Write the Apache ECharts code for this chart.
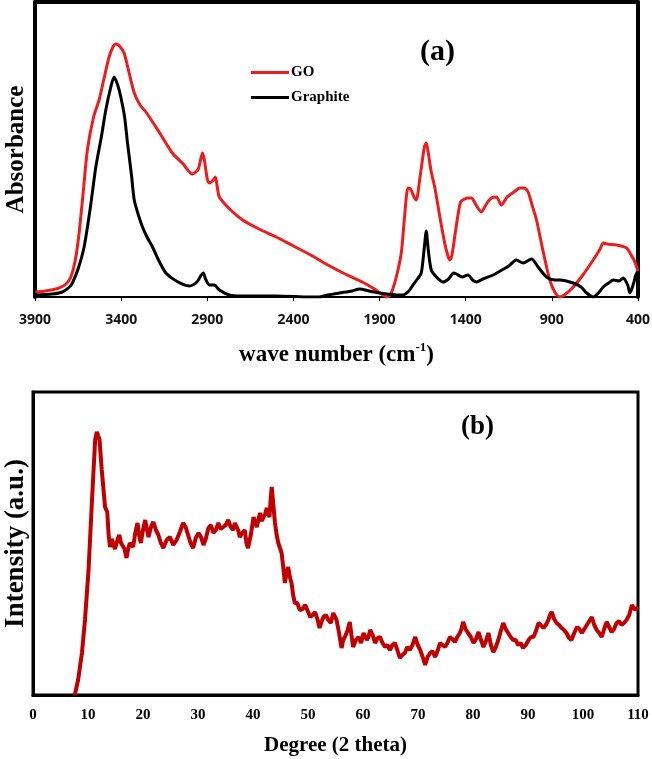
<!DOCTYPE html>
<html>
<head>
<meta charset="utf-8">
<script src="https://cdn.jsdelivr.net/npm/echarts@6/dist/echarts.min.js"></script>
<style>html,body{margin:0;padding:0;background:#fff;}#c{width:652px;height:759px;}</style>
</head>
<body>
<div id="c"></div>
<script>
// ---- FTIR (a) ----
const ftirTicks = [3900, 3400, 2900, 2400, 1900, 1400, 900, 400];
const goWavenumber = [3898,3840,3760,3720,3692,3665,3644,3620,3596,3560,3528,3500,3470,3445,3431,3410,3383,3355,3324,3290,3256,3180,3103,3040,2987,2960,2950,2935,2927,2915,2900,2888,2870,2853,2842,2830,2770,2695,2600,2500,2400,2300,2200,2100,2000,1930,1880,1861,1840,1825,1800,1774,1755,1735,1720,1700,1687,1665,1640,1629,1618,1600,1580,1550,1522,1505,1493,1480,1464,1445,1430,1416,1390,1367,1340,1309,1280,1251,1222,1193,1160,1120,1086,1060,1038,1015,989,950,912,880,853,820,776,720,660,620,602,580,524,466,440,420,408,400];
const goAbsorbance = [5,6,9,13,20,38,64,105,147,180,197,218,240,251,253,251,244,225,204,192,185,165,144,133,123,126,129,140,144,135,118,114,116,120,110,100,88,77,68,60,51,42,32,23,15,8,2,0,2,7,22,44,80,109,108,100,97,120,150,154,145,125,110,80,54,42,37,42,60,82,95,97,99,99,92,85,93,99,100,92,100,105,109,109,105,92,77,45,17,4,0,3,10,22,37,48,54,53,52,49,42,36,30,26];
const graphiteWavenumber = [3898,3800,3741,3700,3683,3650,3615,3580,3547,3515,3489,3460,3441,3420,3402,3380,3363,3340,3324,3300,3276,3250,3218,3180,3140,3080,3005,2960,2935,2923,2910,2888,2859,2830,2772,2700,2500,2300,2249,2200,2133,2060,2016,1960,1900,1800,1765,1730,1706,1680,1658,1640,1629,1618,1600,1570,1532,1500,1470,1454,1420,1387,1360,1338,1300,1241,1200,1150,1106,1067,1018,980,931,880,853,776,730,698,660,630,602,570,544,510,486,460,447,425,408,400];
const graphiteAbsorbance = [2,3,5,10,14,28,50,88,130,160,187,210,220,212,200,180,154,122,97,82,70,60,50,36,24,16,11,15,22,24,18,12,12,7,2,1,1,0,0,2,4,6,8,6,4,2,2,6,12,18,24,50,66,48,27,20,15,18,24,23,20,22,17,15,18,22,26,31,37,34,38,30,20,17,17,14,10,4,0,4,10,14,17,16,19,12,4,14,24,22];

// ---- XRD (b) ----
const xrdTicks = [0,10,20,30,40,50,60,70,80,90,100,110];
const xrdAngle = [7.6,8.2,8.9,9.45,10.1,10.7,11.3,11.6,12.1,12.5,13.1,
  13.5,13.75,14.0,14.3,14.6,14.9,15.2,15.45,15.7,16.0,16.3,16.65,17.0,17.3,17.6,17.9,18.2,18.6,19.0,19.3,19.6,20.0,20.4,20.7,21.0,21.45,21.9,22.35,22.8,23.25,23.7,24.3,24.9,25.5,26.1,26.7,27.3,27.75,28.2,28.65,29.1,29.6,30.1,30.55,31.0,31.45,31.9,32.35,32.8,33.25,33.7,34.15,34.6,35.05,35.5,35.95,36.4,36.7,37.0,37.3,37.6,38.05,38.5,38.8,39.1,39.6,40.1,40.4,40.7,41.0,41.3,41.6,41.9,42.2,42.5,42.75,43.0,43.2,43.4,43.7,44.0,44.3,44.6,44.9,45.2,45.5,45.8,46.1,46.4,46.7,47.0,47.3,47.6,48.05,48.5,49.0,49.5,49.95,50.4,50.85,51.3,51.7,52.1,52.45,52.8,53.25,53.7,54.15,54.6,54.9,55.2,55.65,56.1,56.4,56.7,57.15,57.6,57.9,58.2,58.7,59.2,59.65,60.1,60.4,60.7,61.0,61.3,61.75,62.2,62.65,63.1,63.55,64.0,64.45,64.9,65.35,65.8,66.25,66.7,67.15,67.6,68.05,68.5,69.0,69.5,69.95,70.4,70.85,71.3,71.75,72.2,72.65,73.1,73.55,74.0,74.45,74.9,75.35,75.8,76.25,76.7,77.15,77.6,77.9,78.2,78.65,79.1,79.6,80.1,80.55,81.0,81.45,81.9,82.35,82.8,83.25,83.7,84.15,84.6,85.05,85.5,85.95,86.4,86.85,87.3,87.75,88.2,88.65,89.1,89.6,90.1,90.55,91.0,91.45,91.9,92.35,92.8,93.25,93.7,94.0,94.3,94.75,95.2,95.65,96.1,96.55,97.0,97.45,97.9,98.4,98.9,99.35,99.8,100.25,100.7,101.15,101.6,102.05,102.5,102.95,103.4,103.85,104.3,104.75,105.2,105.65,106.1,106.55,107.0,107.45,107.9,108.4,108.9,109.2,109.5,109.75,110];
const xrdIntensity = [0,15,42,75,125,192,255,263,255,225,188,
  183,160,148,156,155,146,148,157,160,152,150,146,137,146,152,154,148,162,172,160,152,165,175,166,158,168,173,165,160,152,147,155,158,150,155,163,172,168,160,152,147,157,162,158,150,157,167,170,162,165,172,166,168,170,175,168,165,172,170,165,158,162,165,152,147,160,178,172,168,176,182,174,172,181,187,182,178,195,208,190,172,160,152,150,142,128,112,122,128,118,112,100,92,92,85,86,90,84,78,80,83,76,67,73,78,80,75,72,82,80,75,62,47,55,58,64,73,60,48,55,58,52,62,60,55,58,65,60,52,57,58,52,48,50,45,50,52,45,37,40,42,48,45,50,58,50,45,38,30,38,42,44,38,44,52,50,48,52,58,56,53,58,62,66,73,66,62,58,52,56,63,55,48,54,62,50,43,48,55,64,72,66,62,58,55,55,50,52,47,50,55,58,58,64,72,70,67,70,75,80,83,76,72,70,67,65,62,57,55,62,68,66,62,66,70,74,78,70,65,62,58,66,73,68,63,66,72,74,70,72,75,80,90,88,85,86,88];

const zip = (a, b) => a.map((v, i) => [v, b[i]]);
const serif = '"Liberation Serif", "Times New Roman", serif';
const plain = v => String(v);

const chart = echarts.init(document.getElementById('c'), null, {renderer: 'canvas'});
chart.setOption({
  animation: false,
  backgroundColor: '#fff',
  grid: [
    {left: 35, right: 14, top: 2, height: 295, outerBoundsMode: 'none', containLabel: false},
    {left: 33, right: 14, top: 392, height: 303, outerBoundsMode: 'none', containLabel: false, show: true, borderColor: '#000', borderWidth: 3, backgroundColor: 'transparent'}
  ],
  title: [
    {text: '(a)', left: 415, top: 32, textStyle: {fontFamily: serif, fontWeight: 'bold', fontSize: 30, color: '#000'}},
    {text: '(b)', left: 456, top: 409, textStyle: {fontFamily: serif, fontWeight: 'bold', fontSize: 27, color: '#000'}}
  ],
  legend: {
    data: ['GO', 'Graphite'],
    orient: 'vertical',
    left: 246, top: 60,
    icon: 'rect', itemWidth: 38, itemHeight: 3, itemGap: 10,
    textStyle: {fontFamily: serif, fontWeight: 'bold', fontSize: 15, color: '#000', padding: [0,0,0,-3]}
  },
  xAxis: [
    {type: 'value', gridIndex: 0, min: 400, max: 3900, interval: 500, inverse: true,
     name: '{t|wave number (cm}{s|-1}{t|)}', nameLocation: 'middle', nameGap: 44,
     nameTextStyle: {rich: {
       t: {fontFamily: serif, fontWeight: 'bold', fontSize: 23, color: '#000', verticalAlign: 'bottom', lineHeight: 26},
       s: {fontFamily: serif, fontWeight: 'bold', fontSize: 13, color: '#000', verticalAlign: 'top', lineHeight: 26}
     }},
     axisLine: {show: true, onZero: false, lineStyle: {color: '#000', width: 2}},
     axisTick: {show: true, length: 4, lineStyle: {color: '#000', width: 1}},
     axisLabel: {margin: 16, formatter: plain, fontFamily: '"Open Sans", "DejaVu Sans", sans-serif', fontWeight: 'bold', fontSize: 14, color: '#111'},
     splitLine: {show: false}},
    {type: 'value', gridIndex: 0, position: 'top', min: 400, max: 3900, inverse: true,
     axisLine: {show: true, onZero: false, lineStyle: {color: '#000', width: 4}},
     axisTick: {show: false}, axisLabel: {show: false}, splitLine: {show: false}},
    {type: 'value', gridIndex: 1, min: 0, max: 110, interval: 10,
     name: 'Degree (2 theta)', nameLocation: 'middle', nameGap: 40,
     nameTextStyle: {fontFamily: serif, fontWeight: 'bold', fontSize: 21, color: '#000'},
     axisLine: {show: true, onZero: false, lineStyle: {color: '#000', width: 3}},
     axisTick: {show: false},
     axisLabel: {margin: 13, formatter: plain, fontFamily: serif, fontWeight: 'bold', fontSize: 15, color: '#000'},
     splitLine: {show: false}}
  ],
  yAxis: [
    {type: 'value', gridIndex: 0, min: 0, max: 295,
     name: 'Absorbance', nameLocation: 'middle', nameGap: 6, nameRotate: 90,
     nameTextStyle: {fontFamily: serif, fontWeight: 'bold', fontSize: 25, color: '#000'},
     axisLine: {show: true, onZero: false, lineStyle: {color: '#000', width: 4}},
     axisTick: {show: false}, axisLabel: {show: false}, splitLine: {show: false}},
    {type: 'value', gridIndex: 0, position: 'right', min: 0, max: 295,
     axisLine: {show: true, onZero: false, lineStyle: {color: '#000', width: 4}},
     axisTick: {show: false}, axisLabel: {show: false}, splitLine: {show: false}},
    {type: 'value', gridIndex: 1, min: 0, max: 303,
     name: 'Intensity (a.u.)', nameLocation: 'middle', nameGap: 3, nameRotate: 90,
     nameTextStyle: {fontFamily: serif, fontWeight: 'bold', fontSize: 27, color: '#000'},
     axisLine: {show: true, onZero: false, lineStyle: {color: '#000', width: 3}},
     axisTick: {show: false}, axisLabel: {show: false}, splitLine: {show: false}}
  ],
  series: [
    {name: 'GO', type: 'line', xAxisIndex: 0, yAxisIndex: 0, data: zip(goWavenumber, goAbsorbance),
     showSymbol: false, smooth: 0.25, lineStyle: {color: '#ee1c1c', width: 3}, itemStyle: {color: '#ee1c1c'}, z: 3},
    {name: 'Graphite', type: 'line', xAxisIndex: 0, yAxisIndex: 0, data: zip(graphiteWavenumber, graphiteAbsorbance),
     showSymbol: false, smooth: 0.25, lineStyle: {color: '#000', width: 3}, itemStyle: {color: '#000'}, z: 4},
    {name: 'XRD', type: 'line', xAxisIndex: 2, yAxisIndex: 2, data: zip(xrdAngle, xrdIntensity),
     showSymbol: false, smooth: false, lineStyle: {color: '#c00000', width: 4}, itemStyle: {color: '#c00000'}}
  ]
});
</script>
</body>
</html>
